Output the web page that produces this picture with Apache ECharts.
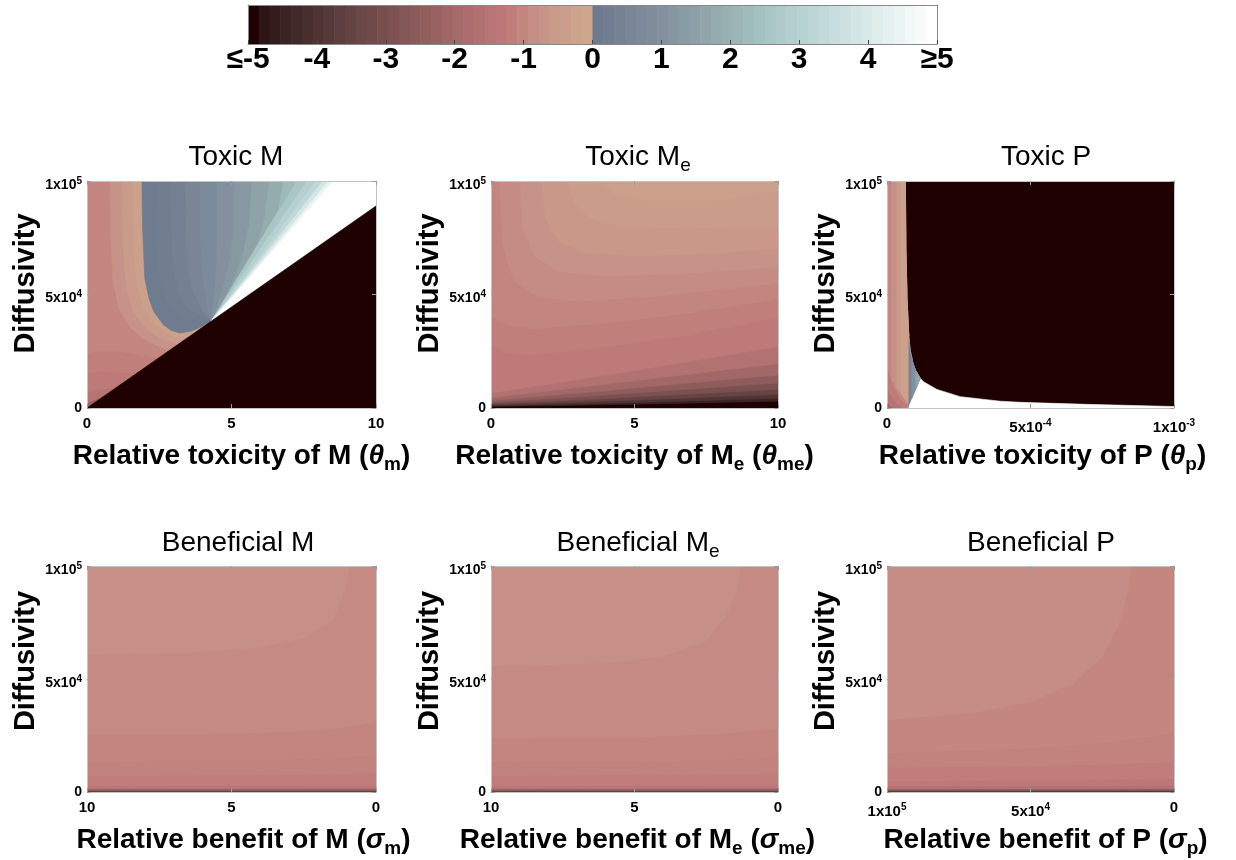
<!DOCTYPE html>
<html>
<head>
<meta charset="utf-8">
<script src="https://cdn.jsdelivr.net/npm/echarts/dist/echarts.min.js"></script>
<style>html,body{margin:0;padding:0;background:#fff}#c{width:1236px;height:860px}</style>
</head>
<body>
<div id="c"></div>
<script>
const FONT = '"Liberation Sans", Arial, Helvetica, sans-serif';

// ---------- texts ----------
const TITLES = ['Toxic M', 'Toxic M{s|e}', 'Toxic P', 'Beneficial M', 'Beneficial M{s|e}', 'Beneficial P'];
const X_NAMES = [
  'Relative toxicity of M ({g|θ}{s|m})',
  'Relative toxicity of M{s|e} ({g|θ}{s|me})',
  'Relative toxicity of P ({g|θ}{s|p})',
  'Relative benefit of M ({g|σ}{s|m})',
  'Relative benefit of M{s|e} ({g|σ}{s|me})',
  'Relative benefit of P ({g|σ}{s|p})'
];
const Y_NAME = 'Diffusivity';

// ---------- colour bar ticks ----------
const CB_TICKS = [-5, -4, -3, -2, -1, 0, 1, 2, 3, 4, 5];
const CB_LABELS = ['≤-5', '-4', '-3', '-2', '-1', '0', '1', '2', '3', '4', '≥5'];

// ---------- axis ticks ----------
const X_TICKS_10 = [0, 5, 10];
const X_LABELS_10 = ['0', '5', '10'];
const X_TICKS_P = [0, 5e-4, 1e-3];
const X_LABELS_P = ['0', '{m|5x10}{p|-4}', '{m|1x10}{p|-3}'];
const X_TICKS_BP = [0, 5e4, 1e5];
const X_LABELS_BP = ['0', '{m|5x10}{p|4}', '{m|1x10}{p|5}'];
const Y_TICKS = [0, 5e4, 1e5];
const Y_LABELS = ['0', '{m|5x10}{p|4}', '{m|1x10}{p|5}'];

// ---------- Toxic M : contour bands [value, polygon in (theta_m, diffusivity)] ----------
const TOXIC_M_BANDS = [
  [-0.95, [[0,0],[10,0],[10,100000],[0,100000]]],
  [-0.7,  [[0.8,100000],[0.82,75000],[0.9,56000],[1.1,44000],[1.45,36000],[1.9,31000],[2.4,27500],[2.85,25370],[10,89000],[10,100000]]],
  [-0.45, [[1.22,100000],[1.24,70000],[1.37,52000],[1.62,42000],[2.0,35500],[2.5,31000],[3.15,28040],[10,89000],[10,100000]]],
  [-0.22, [[1.6,100000],[1.62,70000],[1.75,54000],[1.95,45000],[2.25,38000],[2.65,33800],[3.05,31300],[3.5,31150],[10,89000],[10,100000]]],
  [-1.1,  [[0,0],[0,24000],[0.4,25000],[1.0,25000],[1.7,23500],[2.45,21800]]],
  [-1.25, [[0,0],[0,15000],[0.5,16000],[1.1,15500],[1.65,14700]]],
  [-1.5,  [[0,0],[0,7000],[0.4,7800],[0.95,8450]]],
  [-2.2,  [[0,0],[0,2200],[0.3,3400],[0.55,4900]]]
];
// positive (blue) region bounded by a U-shaped curve and the white wedge
const TOXIC_M_U = [[1.9,100000],[1.92,80000],[2.0,57000],[2.15,48000],[2.3,42700],[2.64,36700],[2.9,34300],[3.2,33000],[3.6,33800],[3.95,35800],[4.3,38270],[8.51,100000]];
const TOXIC_M_U_VALUE = 0.05;
const TOXIC_M_JUNCTION = [4.3, 38270];
// contour lines inside the blue region, each running from the top edge down to the junction
const TOXIC_M_CONTOURS = [
  [[2.4,100000],[2.42,75000],[2.5,58000],[2.7,48000],[3.0,42500],[3.5,39500],[3.9,38600]],
  [[2.9,100000],[2.92,75000],[3.0,60000],[3.2,50000],[3.5,44000],[3.9,40500]],
  [[3.4,100000],[3.42,75000],[3.5,62000],[3.65,52000],[3.9,45000],[4.1,41000]],
  [[3.9,100000],[3.91,75000],[3.97,63000],[4.05,53000],[4.15,45000]],
  [[4.5,100000],[4.5,78000],[4.48,64000],[4.42,54000],[4.36,46000]],
  [[5.1,100000],[5.07,80000],[4.95,66000],[4.75,55000],[4.5,45000]],
  [[5.7,100000],[5.62,82000],[5.4,68000],[5.05,56000],[4.65,45500]],
  [[6.3,100000],[6.15,84000],[5.85,70000],[5.4,58000]],
  [[6.8,100000],[6.6,86000],[6.2,73000]],
  [[7.25,100000]],
  [[7.6,100000]],
  [[7.9,100000]],
  [[8.15,100000]],
  [[8.35,100000]],
  [[8.51,100000]]
];
const TOXIC_M_CONTOUR_VALUES = [0.15, 0.3, 0.5, 0.7, 0.95, 1.2, 1.5, 1.8, 2.2, 2.6, 3.0, 3.3, 3.9, 4.5];
const TOXIC_M_WHITE = [[4.3,38270],[8.51,100000],[10,100000],[10,89000]];
const TOXIC_M_BLACK = [[0,0],[10,0],[10,89000]];

// ---------- Toxic Me ----------
const TOXIC_ME_BANDS = [
  [-5,    [[0,0],[10,0],[10,100000],[0,100000]]],
  [-4.5,  [[0,700],[3,1200],[6,1900],[10,3000],[10,100000],[0,100000]]],
  [-4.0,  [[0,1000],[3,1800],[6,2800],[10,4300],[10,100000],[0,100000]]],
  [-3.5,  [[0,1400],[3,2600],[6,4000],[10,6000],[10,100000],[0,100000]]],
  [-3.0,  [[0,1900],[3,3500],[6,5500],[10,8200],[10,100000],[0,100000]]],
  [-2.5,  [[0,2500],[3,4800],[6,7500],[10,11000],[10,100000],[0,100000]]],
  [-2.0,  [[0,3300],[3,6500],[6,10000],[10,14500],[10,100000],[0,100000]]],
  [-1.6,  [[0,4500],[3,9000],[6,13500],[10,19500],[10,100000],[0,100000]]],
  [-1.25, [[0,6500],[3,12500],[6,18500],[10,27000],[10,100000],[0,100000]]],
  [-1.1,  [[0,28000],[0.5,24500],[1.5,23500],[4,27000],[7,32500],[10,40000],[10,100000],[0,100000]]],
  [-0.97, [[0,40000],[0.6,36500],[1.5,35000],[4,37500],[7,42000],[10,48000],[10,100000],[0,100000]]],
  [-0.85, [[0.3,100000],[0.4,72000],[0.8,56000],[1.6,49000],[3,47000],[6,49500],[10,55000],[10,100000]]],
  [-0.7,  [[1.0,100000],[1.1,80000],[1.5,67000],[2.3,60500],[4,58000],[7,59500],[10,62000],[10,100000]]],
  [-0.55, [[1.75,100000],[1.9,83000],[2.4,73000],[3.3,68500],[5,67000],[7.5,68000],[10,70000],[10,100000]]],
  [-0.4,  [[2.65,100000],[2.9,90000],[3.5,83500],[4.5,80000],[6.5,79000],[10,80000],[10,100000]]],
  [-0.28, [[3.8,100000],[4.3,94000],[5.5,91000],[7.5,91000],[9.5,94000],[10,95500],[10,100000]]]
];

// ---------- Toxic P ----------
const TOXIC_P_BANDS = [
  [-5,   [[0,0],[1e-3,0],[1e-3,100000],[0,100000]]],
  [5,    [[7.3e-5,0],[7.3e-5,30000],[7.6e-5,32000],[8.1e-5,25500],[9.0e-5,20000],[9.9e-5,16700],[1.16e-4,13100],[1.27e-4,11600],[1.74e-4,8200],[2.55e-4,5000],[3.94e-4,3000],[4.64e-4,2500],[6.96e-4,1600],[9.27e-4,900],[1e-3,650],[1e-3,0]]],
  [0.3,  [[7.3e-5,300],[7.3e-5,30000],[7.6e-5,31000],[8.1e-5,25500],[9.0e-5,20000],[9.9e-5,16700],[1.16e-4,13100]]],
  [0.9,  [[8.6e-5,4200],[8.6e-5,22400],[9.0e-5,20000],[9.9e-5,16700],[1.16e-4,13100]]],
  [1.6,  [[1.0e-4,8300],[1.0e-4,16400],[1.16e-4,13100]]],
  [-0.95,[[0,0],[7.3e-5,0],[7.3e-5,30000],[7.6e-5,32000],[7.0e-5,47600],[6.6e-5,70000],[6.4e-5,100000],[0,100000]]],
  [-0.75,[[1.6e-5,12000],[1.6e-5,100000],[6.4e-5,100000],[6.6e-5,70000],[7.0e-5,47600],[7.6e-5,32000],[7.3e-5,30000],[7.3e-5,4000]]],
  [-0.5, [[3.2e-5,9000],[3.2e-5,100000],[6.4e-5,100000],[6.6e-5,70000],[7.0e-5,47600],[7.6e-5,32000],[7.3e-5,30000],[7.3e-5,3000]]],
  [-0.25,[[4.8e-5,6500],[4.8e-5,100000],[6.4e-5,100000],[6.6e-5,70000],[7.0e-5,47600],[7.6e-5,32000],[7.3e-5,30000],[7.3e-5,2000]]],
  [-1.2, [[0,0],[0,18000],[2e-5,10000],[4.5e-5,4000],[7.3e-5,800],[7.3e-5,0]]],
  [-1.5, [[0,0],[0,8000],[2.5e-5,3000],[5e-5,0]]],
  [-2.0, [[0,0],[0,2500],[1.5e-5,0]]]
];

// ---------- Beneficial M ----------
const BEN_M_BANDS = [
  [-0.88, [[0,0],[10,0],[10,100000],[0,100000]]],
  [-0.76, [[10,60600],[6,62000],[4,64000],[2.5,68000],[1.5,76000],[1.1,88000],[0.9,100000],[10,100000]]],
  [-0.97, [[10,0],[10,25000],[5,25500],[2,27000],[0.8,29000],[0,31000],[0,0]]],
  [-1.05, [[10,0],[10,13500],[5,13800],[2,14500],[0,16000],[0,0]]],
  [-1.15, [[10,0],[10,7000],[3,7200],[0,8000],[0,0]]],
  [-1.35, [[10,0],[10,2600],[0,2800],[0,0]]],
  [-2.2,  [[10,0],[10,1200],[0,1300],[0,0]]],
  [-3.5,  [[10,0],[10,400],[0,450],[0,0]]]
];

// ---------- Beneficial Me ----------
const BEN_ME_BANDS = [
  [-0.88, [[0,0],[10,0],[10,100000],[0,100000]]],
  [-0.76, [[10,55700],[6,57000],[4,60000],[2.5,67000],[1.8,78000],[1.4,90000],[1.3,100000],[10,100000]]],
  [-0.97, [[10,0],[10,23500],[5,24000],[2,25500],[0,28000],[0,0]]],
  [-1.05, [[10,0],[10,13000],[5,13300],[2,14000],[0,15500],[0,0]]],
  [-1.15, [[10,0],[10,6800],[0,7800],[0,0]]],
  [-1.35, [[10,0],[10,2600],[0,2800],[0,0]]],
  [-2.2,  [[10,0],[10,1200],[0,1300],[0,0]]],
  [-3.5,  [[10,0],[10,400],[0,450],[0,0]]]
];

// ---------- Beneficial P ----------
const BEN_P_BANDS = [
  [-0.95, [[0,0],[1e5,0],[1e5,100000],[0,100000]]],
  [-0.82, [[1e5,32000],[7e4,35000],[5e4,40000],[3.5e4,48000],[2.5e4,60000],[1.9e4,75000],[1.6e4,90000],[1.5e4,100000],[1e5,100000]]],
  [-1.05, [[1e5,0],[1e5,17000],[5e4,19000],[2e4,22000],[0,26000],[0,0]]],
  [-1.15, [[1e5,0],[1e5,10500],[5e4,11000],[0,13000],[0,0]]],
  [-1.28, [[1e5,0],[1e5,4500],[0,5500],[0,0]]],
  [-1.6,  [[1e5,0],[1e5,2200],[0,2500],[0,0]]],
  [-2.5,  [[1e5,0],[1e5,1000],[0,1100],[0,0]]],
  [-3.8,  [[1e5,0],[1e5,350],[0,400],[0,0]]]
];

// ---------- colour map (style) ----------
const NEG_CMAP = [[-5,'#1e0000'],[-4.85,'#2c1414'],[-4.5,'#3c2424'],[-4,'#513535'],[-3.5,'#664444'],[-3,'#7a5050'],[-2.5,'#8e5c5c'],[-2,'#a26868'],[-1.5,'#b67474'],[-1.2,'#bf7a7a'],[-1,'#c3847e'],[-0.8,'#c58e86'],[-0.6,'#c89688'],[-0.4,'#ca9c8a'],[-0.2,'#cca28c'],[0,'#cea68e']];
const POS_CMAP = [[0,'#6e7a8e'],[0.5,'#788696'],[1,'#83929e'],[1.5,'#8ea2a8'],[2,'#99b2b4'],[2.5,'#a6c4c4'],[3,'#b6d0d0'],[3.5,'#c6dcdc'],[4,'#d8e8e8'],[4.5,'#ebf3f3'],[5,'#ffffff']];

function hexToRgb(h) { return [parseInt(h.slice(1,3),16), parseInt(h.slice(3,5),16), parseInt(h.slice(5,7),16)]; }
function interp(stops, v) {
  if (v <= stops[0][0]) return stops[0][1];
  for (let i = 1; i < stops.length; i++) {
    if (v <= stops[i][0]) {
      const a = stops[i-1], b = stops[i];
      const t = (v - a[0]) / (b[0] - a[0]);
      const ca = hexToRgb(a[1]), cb = hexToRgb(b[1]);
      return 'rgb(' + ca.map((c,k) => Math.round(c + (cb[k]-c)*t)).join(',') + ')';
    }
  }
  return stops[stops.length-1][1];
}
function colorOf(v) { return v < 0 ? interp(NEG_CMAP, v) : interp(POS_CMAP, v); }

// colour bar steps (32 per side, like the stepped colormap)
const CB_STEPS = [];
for (let k = 0; k < 32; k++) CB_STEPS.push([-5 + k*5/32, -5 + (k+1)*5/32, interp(NEG_CMAP, -5 + k*5/31)]);
for (let k = 0; k < 32; k++) CB_STEPS.push([k*5/32, (k+1)*5/32, interp(POS_CMAP, k*5/31)]);

// assemble Toxic M band list from its pieces
const TOXIC_M_BLUE = TOXIC_M_CONTOUR_VALUES.map(function (v, i) {
  const a = TOXIC_M_CONTOURS[i], b = TOXIC_M_CONTOURS[i + 1];
  return [v, a.concat([TOXIC_M_JUNCTION]).concat(b.slice().reverse())];
});
const TOXIC_M_ALL = TOXIC_M_BANDS
  .concat([[TOXIC_M_U_VALUE, TOXIC_M_U]])
  .concat(TOXIC_M_BLUE)
  .concat([[5, TOXIC_M_WHITE], [-5, TOXIC_M_BLACK]]);

// ---------- layout ----------
const PANELS = [
  {bands: TOXIC_M_ALL,    x: [0, 10, 5, false], xt: [X_TICKS_10, X_LABELS_10], grid: {left: 87,  top: 181, width: 289, height: 227}, tx: 236,  ty: 142, ndx: 10, ydx: 11},
  {bands: TOXIC_ME_BANDS, x: [0, 10, 5, false], xt: [X_TICKS_10, X_LABELS_10], grid: {left: 491, top: 181, width: 287, height: 227}, tx: 638,  ty: 142, ndx: 0,  ydx: 11},
  {bands: TOXIC_P_BANDS,  x: [0, 1e-3, 5e-4, false], xt: [X_TICKS_P, X_LABELS_P], grid: {left: 887, top: 181, width: 287, height: 227}, tx: 1046, ty: 142, ndx: 12, ydx: 11},
  {bands: BEN_M_BANDS,    x: [0, 10, 5, true], xt: [X_TICKS_10, X_LABELS_10], grid: {left: 87,  top: 566, width: 289, height: 226}, tx: 238,  ty: 528, ndx: 12, ydx: 18},
  {bands: BEN_ME_BANDS,   x: [0, 10, 5, true], xt: [X_TICKS_10, X_LABELS_10], grid: {left: 491, top: 566, width: 287, height: 226}, tx: 638,  ty: 528, ndx: 3,  ydx: 18},
  {bands: BEN_P_BANDS,    x: [0, 1e5, 5e4, true], xt: [X_TICKS_BP, X_LABELS_BP], grid: {left: 887, top: 566, width: 287, height: 226}, tx: 1041, ty: 528, ndx: 15, ydx: 18}
];

const LINE_C = '#c4c4c4', TICK_C = '#9c9c9c';
function labelFmt(vals, labs) {
  return function (v) {
    for (let i = 0; i < vals.length; i++) {
      if (Math.abs(v - vals[i]) <= 1e-9 * Math.max(1e-3, Math.abs(vals[i]))) return labs[i];
    }
    return '';
  };
}
const Y_LABEL_RICH = {
  m: {fontSize: 14, fontWeight: 'bold', fontFamily: FONT, color: '#000', padding: [8, 0, 0, 0]},
  p: {fontSize: 10, fontWeight: 'bold', fontFamily: FONT, color: '#000', lineHeight: 10, verticalAlign: 'top', padding: [6, 0, 0, 0]}
};
const X_LABEL_RICH = {
  m: {fontSize: 15, fontWeight: 'bold', fontFamily: FONT, color: '#000', padding: [4, 0, 0, 0]},
  p: {fontSize: 10, fontWeight: 'bold', fontFamily: FONT, color: '#000', lineHeight: 10, verticalAlign: 'top', padding: [2, 0, 0, 0]}
};
const NAME_RICH = {
  g: {fontSize: 28, fontWeight: 'bold', fontStyle: 'italic', fontFamily: FONT, color: '#000', lineHeight: 30},
  s: {fontSize: 19, fontWeight: 'bold', fontFamily: FONT, color: '#000', lineHeight: 19, verticalAlign: 'top', padding: [14, 0, 0, 0]}
};
const TITLE_RICH = {
  s: {fontSize: 19, fontWeight: 'normal', fontFamily: FONT, color: '#000', lineHeight: 19, verticalAlign: 'top', padding: [14, 0, 0, 0]}
};

const grids = [], xAxes = [], yAxes = [], series = [], titles = [];
PANELS.forEach(function (p, i) {
  grids.push(p.grid);
  const common = {gridIndex: i, type: 'value', min: p.x[0], max: p.x[1], interval: p.x[2], inverse: p.x[3], z: 10, splitLine: {show: false},
    axisLine: {show: true, onZero: false, lineStyle: {color: LINE_C, width: 1}},
    axisTick: {show: true, inside: true, length: 4, lineStyle: {color: TICK_C}}};
  xAxes.push(Object.assign({}, common, {
    position: 'bottom',
    axisLabel: {show: true, margin: 8, fontSize: 15, fontWeight: 'bold', color: '#000', fontFamily: FONT, formatter: labelFmt(p.xt[0], p.xt[1]), rich: X_LABEL_RICH},
    name: X_NAMES[i], nameLocation: 'middle', nameGap: 33,
    nameTextStyle: {fontSize: 28, fontWeight: 'bold', color: '#000', fontFamily: FONT, lineHeight: 30, padding: [0, 0, 0, 2 * p.ndx], rich: NAME_RICH}
  }));
  xAxes.push(Object.assign({}, common, {position: 'top', axisLabel: {show: false}}));
  const ycommon = {gridIndex: i, type: 'value', min: 0, max: 100000, interval: 50000, z: 10, splitLine: {show: false},
    axisLine: {show: true, onZero: false, lineStyle: {color: LINE_C, width: 1}},
    axisTick: {show: true, inside: true, length: 4, lineStyle: {color: TICK_C}}};
  yAxes.push(Object.assign({}, ycommon, {
    position: 'left',
    axisLabel: {show: true, margin: 5, fontSize: 14, fontWeight: 'bold', color: '#000', fontFamily: FONT, formatter: labelFmt(Y_TICKS, Y_LABELS), rich: Y_LABEL_RICH},
    name: Y_NAME, nameLocation: 'middle', nameGap: 47,
    nameTextStyle: {fontSize: 29, fontWeight: 'bold', color: '#000', fontFamily: FONT, padding: [0, 0, 0, 2 * p.ydx]}
  }));
  yAxes.push(Object.assign({}, ycommon, {position: 'right', axisLabel: {show: false}}));

  const bands = p.bands;
  series.push({
    type: 'custom', xAxisIndex: 2 * i, yAxisIndex: 2 * i, clip: true, silent: true, animation: false,
    data: bands.map((b, k) => [b[1][0][0], b[1][0][1], k]),
    encode: {x: 0, y: 1},
    renderItem: function (params, api) {
      const b = bands[params.dataIndex];
      const col = colorOf(b[0]);
      return {
        type: 'polygon', z2: params.dataIndex,
        shape: {points: b[1].map(pt => api.coord(pt))},
        style: {fill: col, stroke: col, lineWidth: 0.6}
      };
    }
  });

  titles.push({
    text: TITLES[i], left: p.tx, top: p.ty, textAlign: 'center', padding: 0,
    textStyle: {fontSize: 28, fontWeight: 'normal', color: '#000', fontFamily: FONT, lineHeight: 30, rich: TITLE_RICH}
  });
});

// colour bar
const CBI = PANELS.length;
grids.push({left: 248, top: 5, width: 689, height: 39});
xAxes.push({gridIndex: CBI, type: 'value', min: -5, max: 5, interval: 1, position: 'bottom', z: 10, splitLine: {show: false},
  axisLine: {show: true, onZero: false, lineStyle: {color: '#8a8a8a'}},
  axisTick: {show: true, inside: true, length: 4, lineStyle: {color: '#444'}},
  axisLabel: {show: true, margin: 1, fontSize: 30, fontWeight: 'bold', color: '#000', fontFamily: FONT, formatter: labelFmt(CB_TICKS, CB_LABELS)}});
xAxes.push({gridIndex: CBI, type: 'value', min: -5, max: 5, position: 'top', z: 10, splitLine: {show: false},
  axisLine: {show: true, onZero: false, lineStyle: {color: '#8a8a8a'}}, axisTick: {show: false}, axisLabel: {show: false}});
yAxes.push({gridIndex: CBI, type: 'value', min: 0, max: 1, position: 'left', z: 10, splitLine: {show: false},
  axisLine: {show: true, onZero: false, lineStyle: {color: '#8a8a8a'}}, axisTick: {show: false}, axisLabel: {show: false}});
yAxes.push({gridIndex: CBI, type: 'value', min: 0, max: 1, position: 'right', z: 10, splitLine: {show: false},
  axisLine: {show: true, onZero: false, lineStyle: {color: '#8a8a8a'}}, axisTick: {show: false}, axisLabel: {show: false}});
series.push({
  type: 'custom', xAxisIndex: 2 * CBI, yAxisIndex: 2 * CBI, silent: true, animation: false, clip: true,
  data: CB_STEPS.map((s, k) => [s[0], 0, k]),
  encode: {x: 0, y: 1},
  renderItem: function (params, api) {
    const s = CB_STEPS[params.dataIndex];
    const a = api.coord([s[0], 0]), b = api.coord([s[1], 1]);
    return {type: 'rect', shape: {x: a[0], y: b[1], width: b[0] - a[0] + 0.6, height: a[1] - b[1]}, style: {fill: s[2]}};
  }
});

const chart = echarts.init(document.getElementById('c'), null, {renderer: 'canvas'});
chart.setOption({
  animation: false,
  backgroundColor: '#ffffff',
  title: titles,
  grid: grids,
  xAxis: xAxes,
  yAxis: yAxes,
  series: series
});
</script>
</body>
</html>
